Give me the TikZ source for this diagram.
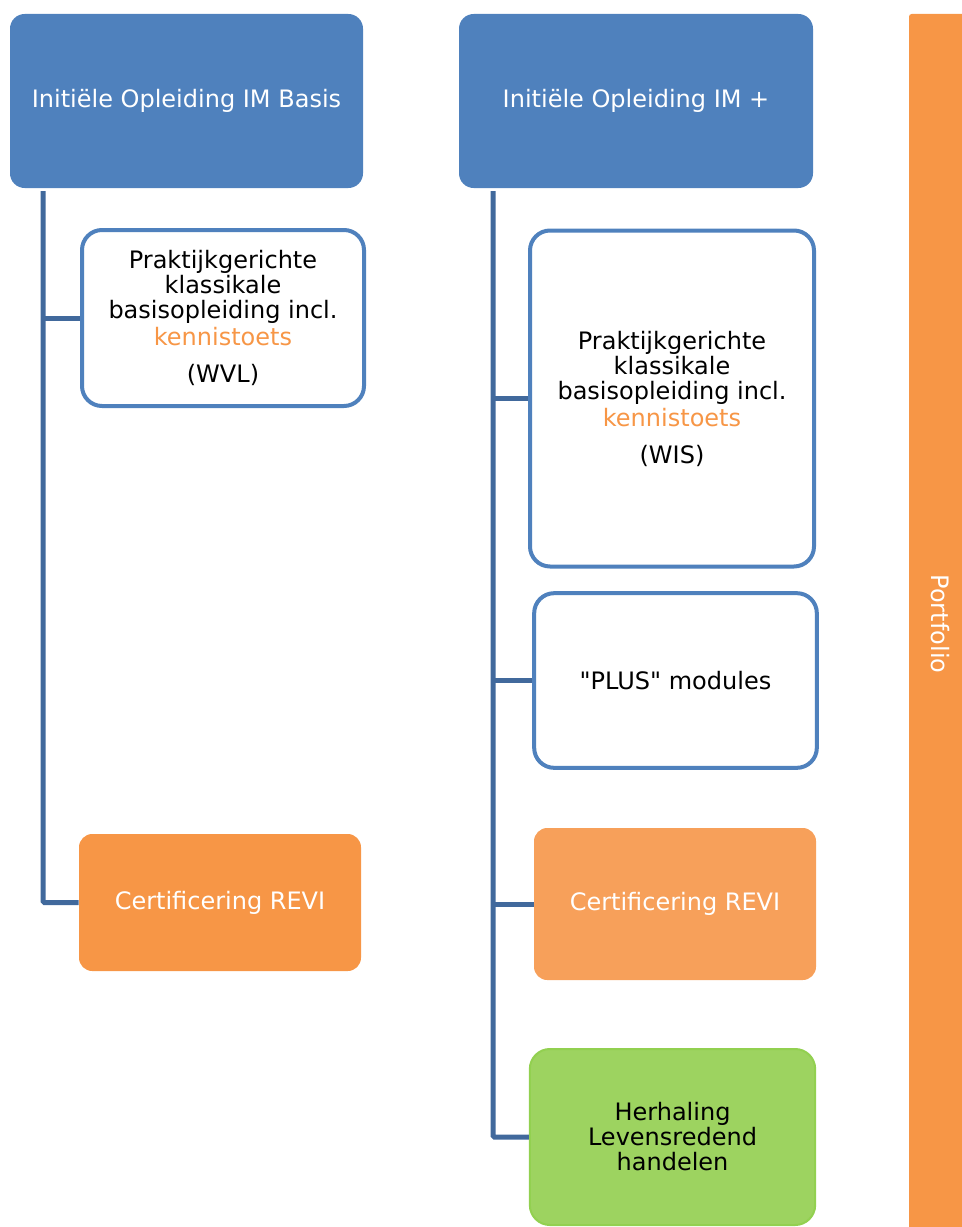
\documentclass[tikz,border=0pt]{standalone}
\usepackage{fontspec}
\setmainfont{DejaVu Sans}[Ligatures=TeXOff]
\usepackage{xcolor}
\usetikzlibrary{positioning}

\definecolor{hdblue}{HTML}{4F81BD}
\definecolor{lnblue}{HTML}{41699C}
\definecolor{revior}{HTML}{F79646}
\definecolor{reviorl}{HTML}{F7A05A}
\definecolor{hhgreen}{HTML}{9DD360}
\definecolor{hhgreend}{HTML}{92D050}

\begin{document}
\begin{tikzpicture}[x=0.75pt, y=-0.75pt,
	every node/.style={font=\fontsize{18}{18.75}\selectfont, align=center, inner sep=0pt},
	head/.style={fill=hdblue, text=white, rounded corners=11pt},
	sub/.style={draw=hdblue, line width=3pt, fill=white, rounded corners=15pt},
	cert/.style={fill=revior, text=white, rounded corners=10pt},
	trunk/.style={draw=lnblue, line width=3.75pt, rounded corners=1pt}]
				
				% Frame of the page
				\useasboundingbox (0,0) rectangle (961,1227);
				
				% Headers
				\node[head, minimum width=264.75pt, minimum height=130.5pt] (hA) at (186.5,101) {Initiële Opleiding IM Basis};
				\node[head, minimum width=265.5pt, minimum height=130.5pt] (hB) at (636,101) {Initiële Opleiding IM +};
				
				% Left column
				\node[sub, minimum width=211.5pt, minimum height=132pt] (pA) at (223,318)
				{Praktijkgerichte\\klassikale\\basisopleiding incl.\\[1.5pt]\textcolor{revior}{kennistoets}\\[9pt](WVL)};
				\node[cert, minimum width=211.5pt, minimum height=102.75pt] (cA) at (220,902.5) {Certificering REVI};
				
				% Right column
				\node[sub, minimum width=213pt, minimum height=252pt] (pB) at (672,398.5)
				{Praktijkgerichte\\klassikale\\basisopleiding incl.\\[1.5pt]\textcolor{revior}{kennistoets}\\[9pt](WIS)};
				\node[sub, minimum width=212pt, minimum height=131pt] (mB) at (675.5,680.5) {"PLUS" modules};
				\node[cert, fill=reviorl, minimum width=211.5pt, minimum height=114pt] (cB) at (675,904) {Certificering REVI};
				\node[draw=hhgreend, line width=1.5pt, fill=hhgreen, rounded corners=15pt,
				minimum width=214pt, minimum height=132pt] (hhB) at (672.5,1137) {Herhaling\\Levensredend\\handelen};
				
				% Portfolio bar
				\node[fill=revior, rounded corners=2pt, minimum width=45.75pt, minimum height=919.5pt] (pf) at (939.5,627) {};
				\node[text=white, rotate=-90] (pfT) at (940,624) {Portfolio};
				
				% Connectors
				\coordinate (tA) at (43,191);
				\coordinate (tB) at (493,191);
				\draw[trunk] (tA) |- (cA.west);
				\draw[trunk] (tA |- pA.west) -- (pA.west);
				\draw[trunk] (tB) |- (hhB.west);
				\draw[trunk] (tB |- pB.west) -- (pB.west);
				\draw[trunk] (tB |- mB.west) -- (mB.west);
				\draw[trunk] (tB |- cB.west) -- (cB.west);
				
			\end{tikzpicture}
\end{document}
